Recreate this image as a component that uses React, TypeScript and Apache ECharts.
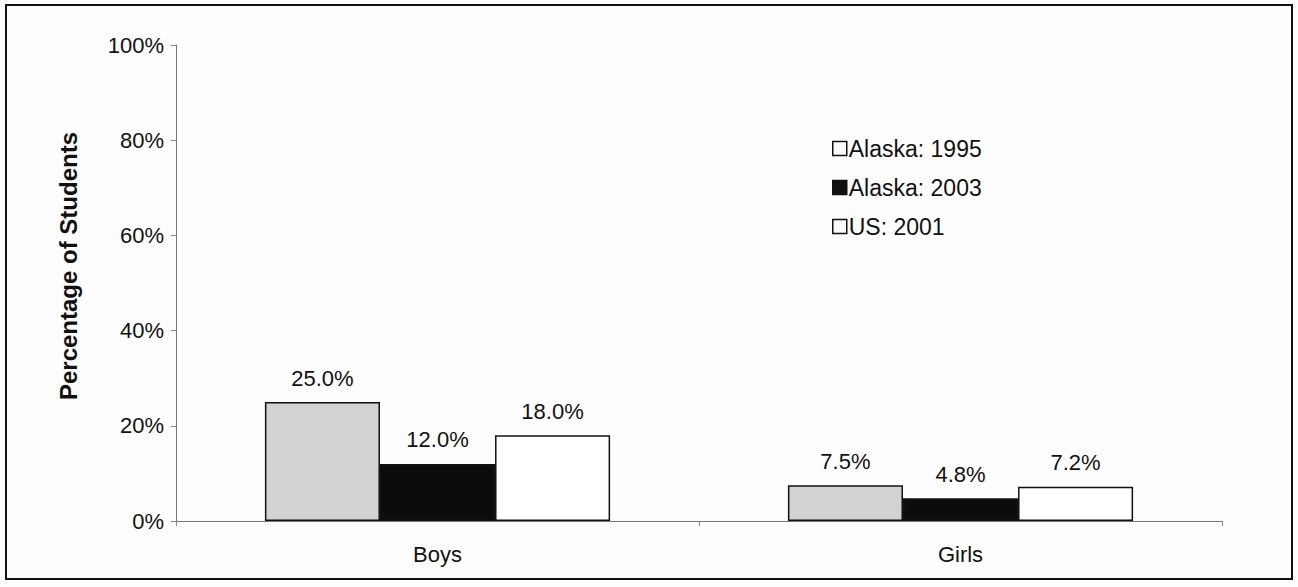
import React, { useEffect, useRef } from "react";
import * as echarts from "echarts";

const categories = ["Boys", "Girls"];
const seriesNames = ["Alaska: 1995", "Alaska: 2003", "US: 2001"];
const alaska1995 = [25.0, 7.5];
const alaska2003 = [12.0, 4.8];
const us2001 = [18.0, 7.2];
const yTicks = [0, 20, 40, 60, 80, 100];

const FONT = "Liberation Sans, Arial, sans-serif";

export default function App() {
  const ref = useRef<HTMLDivElement>(null);
  useEffect(() => {
    document.body.style.margin = "0";
    const chart = echarts.init(ref.current!, null, { renderer: "svg" });
    const colors = ["#d2d2d2", "#0c0c0c", "#ffffff"];
    const data = [alaska1995, alaska2003, us2001];
    chart.setOption({
      animation: false,
      backgroundColor: "#fdfdfd",
      grid: { left: 176, right: 76, top: 45, bottom: 66 },
      legend: {
        orient: "vertical",
        left: 827,
        top: 132,
        itemWidth: 14,
        itemHeight: 14,
        itemGap: 16,
        icon: "rect",
        textStyle: { fontFamily: FONT, fontSize: 23, color: "#111", padding: [0, 0, 0, -3] },
        data: seriesNames.map((n, i) => ({
          name: n,
          itemStyle: { color: i === 1 ? "#111" : "#fafafa", borderColor: "#111", borderWidth: 1.5 },
        })),
      },
      xAxis: {
        type: "category",
        data: categories,
        axisLine: { lineStyle: { color: "#777", width: 1 } },
        axisTick: { show: true, length: 5, lineStyle: { color: "#888" } },
        axisLabel: { fontFamily: FONT, fontSize: 22, color: "#111", margin: 22 },
      },
      yAxis: {
        type: "value",
        min: 0,
        max: 100,
        interval: 20,
        axisLine: { show: true, lineStyle: { color: "#777", width: 1 } },
        axisTick: { show: true, length: 5, lineStyle: { color: "#888" } },
        splitLine: { show: false },
        axisLabel: {
          fontFamily: FONT,
          fontSize: 22,
          color: "#111",
          margin: 12,
          formatter: (v: number) => (yTicks.includes(v) ? v + "%" : ""),
        },
      },
      graphic: [
        {
          type: "text",
          x: 68,
          y: 266,
          rotation: Math.PI / 2,
          style: {
            text: "Percentage of Students",
            fontFamily: FONT,
            fontSize: 24,
            fontWeight: "bold",
            fill: "#111",
            align: "center",
            verticalAlign: "middle",
          },
        },
        {
          type: "rect",
          shape: { x: 6, y: 5, width: 1286, height: 574 },
          style: { fill: "none", stroke: "#111", lineWidth: 2 },
          silent: true,
        },
      ],
      series: seriesNames.map((n, i) => ({
        name: n,
        type: "bar",
        data: data[i],
        barGap: "0%",
        barCategoryGap: "34%",
        itemStyle: { color: colors[i], borderColor: "#111", borderWidth: 1.5 },
        label: {
          show: true,
          position: "top",
          distance: 13,
          fontFamily: FONT,
          fontSize: 22,
          color: "#111",
          formatter: (p: any) => p.value.toFixed(1) + "%",
        },
      })),
    });
    return () => chart.dispose();
  }, []);
  return <div ref={ref} style={{ width: 1298, height: 587 }} />;
}
